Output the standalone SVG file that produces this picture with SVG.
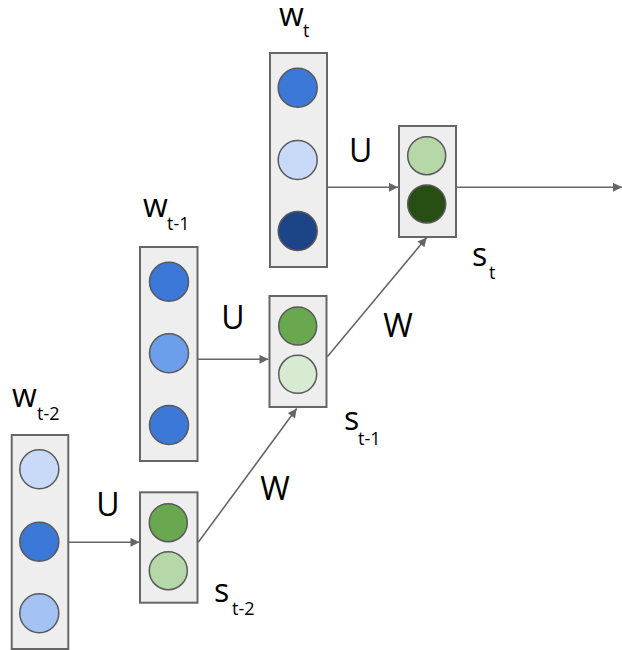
<svg xmlns="http://www.w3.org/2000/svg" width="622" height="650" viewBox="0 0 622 650">
<defs>
<style>
.box{fill:#eeeeee;stroke:#666666;stroke-width:2}
.c{stroke:#595959;stroke-width:1.5}
.edge{stroke:#666666;stroke-width:1.6;fill:none}
.lbl{font-family:"Open Sans","Liberation Sans",sans-serif;font-size:32px;fill:#000}
.sub{font-family:"Open Sans","Liberation Sans",sans-serif;font-size:18px;fill:#000}
</style>
<marker id="ah" viewBox="0 0 10 10" refX="10" refY="5" markerWidth="10" markerHeight="9" markerUnits="userSpaceOnUse" orient="auto">
<path d="M0,0 L10,5 L0,10 z" fill="#666666"/>
</marker>
</defs>
<rect width="622" height="650" fill="#ffffff"/>

<g id="connectors">
<line class="edge" x1="327" y1="187.3" x2="398" y2="187.3" marker-end="url(#ah)"/>
<line class="edge" x1="456" y1="187.3" x2="622" y2="187.3" marker-end="url(#ah)"/>
<line class="edge" x1="198" y1="359.3" x2="268.5" y2="359.3" marker-end="url(#ah)"/>
<line class="edge" x1="327.3" y1="356.7" x2="426.7" y2="237.5" marker-end="url(#ah)"/>
<line class="edge" x1="68.5" y1="542.3" x2="139.5" y2="542.3" marker-end="url(#ah)"/>
<line class="edge" x1="198.3" y1="542.3" x2="296.7" y2="408.5" marker-end="url(#ah)"/>
<text class="lbl" x="360.7" y="161.5" text-anchor="middle">U</text>
<text class="lbl" x="233" y="329" text-anchor="middle">U</text>
<text class="lbl" x="108" y="516" text-anchor="middle">U</text>
<text class="lbl" x="398" y="336.5" text-anchor="middle">W</text>
<text class="lbl" x="275" y="500" text-anchor="middle">W</text>
</g>

<g id="w_t">
<rect class="box" x="270" y="53" width="57" height="214"/>
<circle class="c" cx="297.7" cy="87.7" r="19.5" fill="#3c78d8"/>
<circle class="c" cx="297.7" cy="160" r="19.5" fill="#c9daf8"/>
<circle class="c" cx="297.7" cy="231" r="19.5" fill="#1c4587"/>
<text class="lbl" x="279" y="26">w</text><text class="sub" x="303" y="37">t</text>
</g>

<g id="s_t">
<rect class="box" x="399" y="126" width="57" height="111"/>
<circle class="c" cx="426.7" cy="155.7" r="19" fill="#b6d7a8"/>
<circle class="c" cx="426.7" cy="204" r="19" fill="#274e13"/>
<text class="lbl" x="472" y="266">s</text><text class="sub" x="489" y="279">t</text>
</g>

<g id="w_t-1">
<rect class="box" x="140" y="247" width="57.5" height="214"/>
<circle class="c" cx="169" cy="281.7" r="19.5" fill="#3c78d8"/>
<circle class="c" cx="169" cy="353.3" r="19.5" fill="#6d9eeb"/>
<circle class="c" cx="169" cy="425" r="19.5" fill="#3c78d8"/>
<text class="lbl" x="143" y="217">w</text><text class="sub" x="167" y="230">t-1</text>
</g>

<g id="s_t-1">
<rect class="box" x="269.5" y="296" width="57" height="111"/>
<circle class="c" cx="297.7" cy="326" r="19" fill="#6aa84f"/>
<circle class="c" cx="297.7" cy="374.3" r="19" fill="#d9ead3"/>
<text class="lbl" x="344" y="430">s</text><text class="sub" x="358" y="444.5">t-1</text>
</g>

<g id="w_t-2">
<rect class="box" x="11.7" y="435" width="56.6" height="214"/>
<circle class="c" cx="39.3" cy="469.3" r="19.5" fill="#c9daf8"/>
<circle class="c" cx="39.3" cy="541.7" r="19.5" fill="#3c78d8"/>
<circle class="c" cx="39.3" cy="613.3" r="19.5" fill="#a4c2f4"/>
<text class="lbl" x="12" y="407">w</text><text class="sub" x="37" y="420">t-2</text>
</g>

<g id="s_t-2">
<rect class="box" x="140" y="492.3" width="57.5" height="110.4"/>
<circle class="c" cx="168.3" cy="522.7" r="19" fill="#6aa84f"/>
<circle class="c" cx="168.3" cy="570.7" r="19" fill="#b6d7a8"/>
<text class="lbl" x="214" y="602">s</text><text class="sub" x="232" y="615">t-2</text>
</g>
</svg>
